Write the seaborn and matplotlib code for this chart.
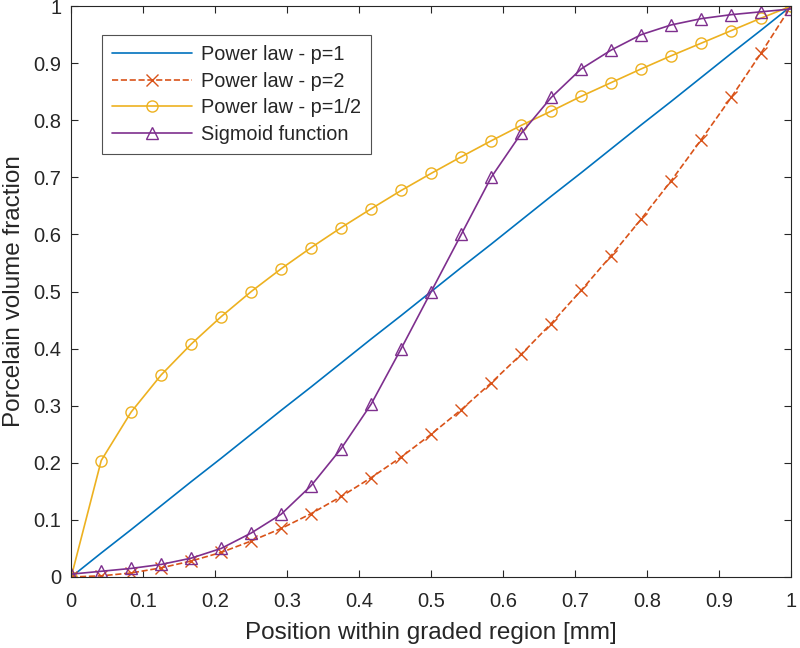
import pandas as pd
import matplotlib.pyplot as plt
import seaborn as sns

# positions along the graded region (25 samples)
position = [0.0, 0.0417, 0.0833, 0.125, 0.1667, 0.2083, 0.25, 0.2917, 0.3333,
            0.375, 0.4167, 0.4583, 0.5, 0.5417, 0.5833, 0.625, 0.6667, 0.7083,
            0.75, 0.7917, 0.8333, 0.875, 0.9167, 0.9583, 1.0]

power_p1 = [0.0, 0.042, 0.083, 0.125, 0.167, 0.208, 0.25, 0.292, 0.333, 0.375,
            0.417, 0.458, 0.5, 0.542, 0.583, 0.625, 0.667, 0.708, 0.75, 0.792,
            0.833, 0.875, 0.917, 0.958, 1.0]
power_p2 = [0.0, 0.002, 0.007, 0.016, 0.028, 0.043, 0.063, 0.085, 0.111, 0.141,
            0.174, 0.21, 0.25, 0.293, 0.34, 0.39, 0.444, 0.502, 0.563, 0.627,
            0.694, 0.766, 0.84, 0.918, 1.0]
power_half = [0.0, 0.204, 0.289, 0.354, 0.408, 0.456, 0.5, 0.54, 0.577, 0.612,
              0.645, 0.677, 0.707, 0.736, 0.764, 0.791, 0.816, 0.842, 0.866,
              0.89, 0.913, 0.935, 0.957, 0.979, 1.0]
sigmoid = [0.005, 0.01, 0.015, 0.022, 0.033, 0.05, 0.077, 0.11, 0.16, 0.225,
           0.303, 0.4, 0.5, 0.6, 0.7, 0.777, 0.84, 0.89, 0.923, 0.95, 0.967,
           0.978, 0.985, 0.99, 0.995]

labels = ["Power law - p=1", "Power law - p=2", "Power law - p=1/2", "Sigmoid function"]
colors = ["#0072BD", "#D95319", "#EDB120", "#7E2F8E"]
tick_labels = ["0", "0.1", "0.2", "0.3", "0.4", "0.5", "0.6", "0.7", "0.8", "0.9", "1"]

sns.set_theme(style="ticks")
plt.rcParams["font.family"] = ["Liberation Sans", "DejaVu Sans"]
plt.rcParams["text.color"] = "#262626"
plt.rcParams["axes.labelcolor"] = "#262626"
plt.rcParams["xtick.color"] = "#262626"
plt.rcParams["ytick.color"] = "#262626"

fig = plt.figure(figsize=(8, 6.48), dpi=100)
ax = fig.add_axes([0.089, 0.1096, 0.9, 0.881])

series = [power_p1, power_p2, power_half, sigmoid]
styles = [("-", None), ("--", "x"), ("-", "o"), ("-", "^")]
for vals, label, color, (ls, mk) in zip(series, labels, colors, styles):
    df = pd.DataFrame({"x": position, "y": vals})
    kw = {}
    if ls == "--":
        kw["dashes"] = (6, 4)
    sns.lineplot(data=df, x="x", y="y", ax=ax, color=color, linestyle=ls,
                 marker=mk, markersize=8, markerfacecolor="none",
                 markeredgecolor=color, markeredgewidth=1.0,
                 linewidth=1.2, label=label, **kw)

ax.set_xlim(0, 1)
ax.set_ylim(0, 1)
ax.set_xticks([i / 10 for i in range(11)])
ax.set_yticks([i / 10 for i in range(11)])
ax.set_xticklabels(tick_labels)
ax.set_yticklabels(tick_labels)
ax.tick_params(direction="in", top=True, right=True, length=5, width=0.8,
               labelsize=14.5)
ax.tick_params(axis="x", pad=11)
ax.tick_params(axis="y", pad=7)
for s in ax.spines.values():
    s.set_linewidth(0.8)
    s.set_color("#262626")

ax.set_xlabel("Position within graded region [mm]", fontsize=17.5, labelpad=8)
ax.set_ylabel("Porcelain volume fraction", fontsize=17.5, labelpad=6)

leg = ax.legend(loc="upper left", bbox_to_anchor=(0.043, 0.949), fontsize=14.3,
                frameon=True, fancybox=False, edgecolor="#262626",
                borderaxespad=0, handlelength=4.0, borderpad=0.5,
                labelspacing=0.38, handletextpad=0.5)
leg.get_frame().set_linewidth(0.8)

fig.savefig("out.png", dpi=100)
